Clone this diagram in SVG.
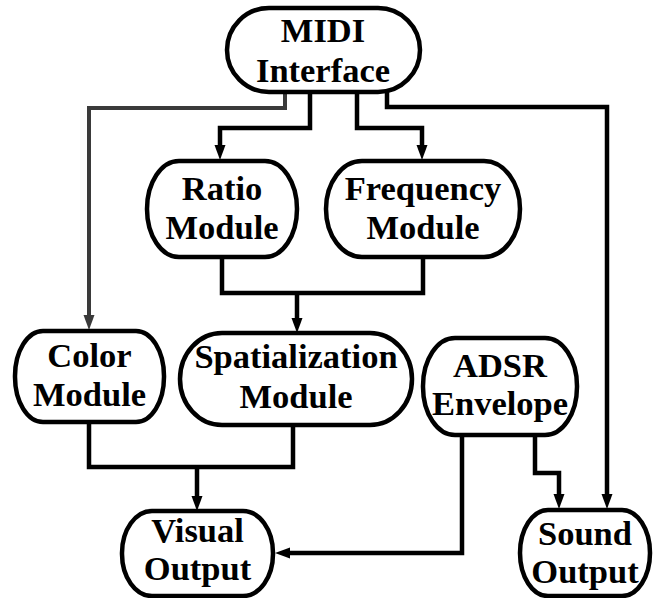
<svg xmlns="http://www.w3.org/2000/svg" width="654" height="598" viewBox="0 0 654 598">
  <defs>
    <marker id="arrow" markerUnits="userSpaceOnUse" markerWidth="16" markerHeight="12" refX="0" refY="6" orient="auto" overflow="visible">
      <path d="M0,0.5 L15,6 L0,11.5 Z" fill="#000000"/>
    </marker>
    <marker id="arrowSoft" markerUnits="userSpaceOnUse" markerWidth="16" markerHeight="12" refX="0" refY="6" orient="auto" overflow="visible">
      <path d="M0,0.5 L15,6 L0,11.5 Z" fill="#3a3a3a"/>
    </marker>
  </defs>

  <!-- connectors: square-cornered elbow wires -->
  <g id="connectors" fill="none" stroke="#000000" stroke-width="4.5" stroke-linejoin="miter">
    <path d="M285,92 V108 H89 V315" stroke="#3a3a3a" stroke-width="4" marker-end="url(#arrowSoft)"/>
    <path d="M310,92 V128 H220 V145" marker-end="url(#arrow)"/>
    <path d="M357,92 V128 H422 V145" marker-end="url(#arrow)"/>
    <path d="M387,92 V107 H607 V494" marker-end="url(#arrow)"/>
    <path d="M222,257 V293 H423 V257"/>
    <path d="M297,293 V318" marker-end="url(#arrow)"/>
    <path d="M89,422 V467 H293 V425"/>
    <path d="M197,467 V496" marker-end="url(#arrow)"/>
    <path d="M462,435 V553 H290" marker-end="url(#arrow)"/>
    <path d="M535,435 V473 H559 V494" marker-end="url(#arrow)"/>
  </g>

  <!-- nodes: rounded shapes with two-line bold serif labels -->
  <g id="midi">
    <rect x="227" y="8" width="193" height="84" rx="42" ry="42" fill="#ffffff" stroke="#000000" stroke-width="4.5"/>
    <text x="323" y="42" font-family="Liberation Serif" font-weight="bold" font-size="34.5" text-anchor="middle">MIDI</text>
    <text x="323" y="82" font-family="Liberation Serif" font-weight="bold" font-size="34.5" text-anchor="middle">Interface</text>
  </g>
  <g id="ratio">
    <rect x="147" y="161" width="150" height="96" rx="32" ry="48" fill="#ffffff" stroke="#000000" stroke-width="4.5"/>
    <text x="222" y="200" font-family="Liberation Serif" font-weight="bold" font-size="34.5" text-anchor="middle">Ratio</text>
    <text x="222" y="239" font-family="Liberation Serif" font-weight="bold" font-size="34.5" text-anchor="middle">Module</text>
  </g>
  <g id="frequency">
    <rect x="326" y="161" width="194" height="96" rx="36" ry="48" fill="#ffffff" stroke="#000000" stroke-width="4.5"/>
    <text x="423" y="200" font-family="Liberation Serif" font-weight="bold" font-size="34.5" text-anchor="middle">Frequency</text>
    <text x="423" y="239" font-family="Liberation Serif" font-weight="bold" font-size="34.5" text-anchor="middle">Module</text>
  </g>
  <g id="color">
    <rect x="15" y="331" width="149" height="91" rx="28" ry="45" fill="#ffffff" stroke="#000000" stroke-width="4.5"/>
    <text x="89.5" y="367" font-family="Liberation Serif" font-weight="bold" font-size="34.5" text-anchor="middle">Color</text>
    <text x="89.5" y="406" font-family="Liberation Serif" font-weight="bold" font-size="34.5" text-anchor="middle">Module</text>
  </g>
  <g id="spatialization">
    <rect x="180" y="333" width="232" height="92" rx="42" ry="46" fill="#ffffff" stroke="#000000" stroke-width="4.5"/>
    <text x="296" y="368" font-family="Liberation Serif" font-weight="bold" font-size="34.5" text-anchor="middle">Spatialization</text>
    <text x="296" y="408" font-family="Liberation Serif" font-weight="bold" font-size="34.5" text-anchor="middle">Module</text>
  </g>
  <g id="adsr">
    <rect x="423" y="338" width="154" height="97" rx="32" ry="48" fill="#ffffff" stroke="#000000" stroke-width="4.5"/>
    <text x="500" y="377" font-family="Liberation Serif" font-weight="bold" font-size="34.5" text-anchor="middle">ADSR</text>
    <text x="500" y="415" font-family="Liberation Serif" font-weight="bold" font-size="34.5" text-anchor="middle">Envelope</text>
  </g>
  <g id="visual">
    <rect x="122" y="511" width="151" height="85" rx="30" ry="42" fill="#ffffff" stroke="#000000" stroke-width="4.5"/>
    <text x="197.5" y="542" font-family="Liberation Serif" font-weight="bold" font-size="34.5" text-anchor="middle">Visual</text>
    <text x="197.5" y="580" font-family="Liberation Serif" font-weight="bold" font-size="34.5" text-anchor="middle">Output</text>
  </g>
  <g id="sound">
    <rect x="520" y="510" width="130" height="86" rx="28" ry="43" fill="#ffffff" stroke="#000000" stroke-width="4.5"/>
    <text x="585" y="545" font-family="Liberation Serif" font-weight="bold" font-size="34.5" text-anchor="middle">Sound</text>
    <text x="585" y="583" font-family="Liberation Serif" font-weight="bold" font-size="34.5" text-anchor="middle">Output</text>
  </g>
</svg>
